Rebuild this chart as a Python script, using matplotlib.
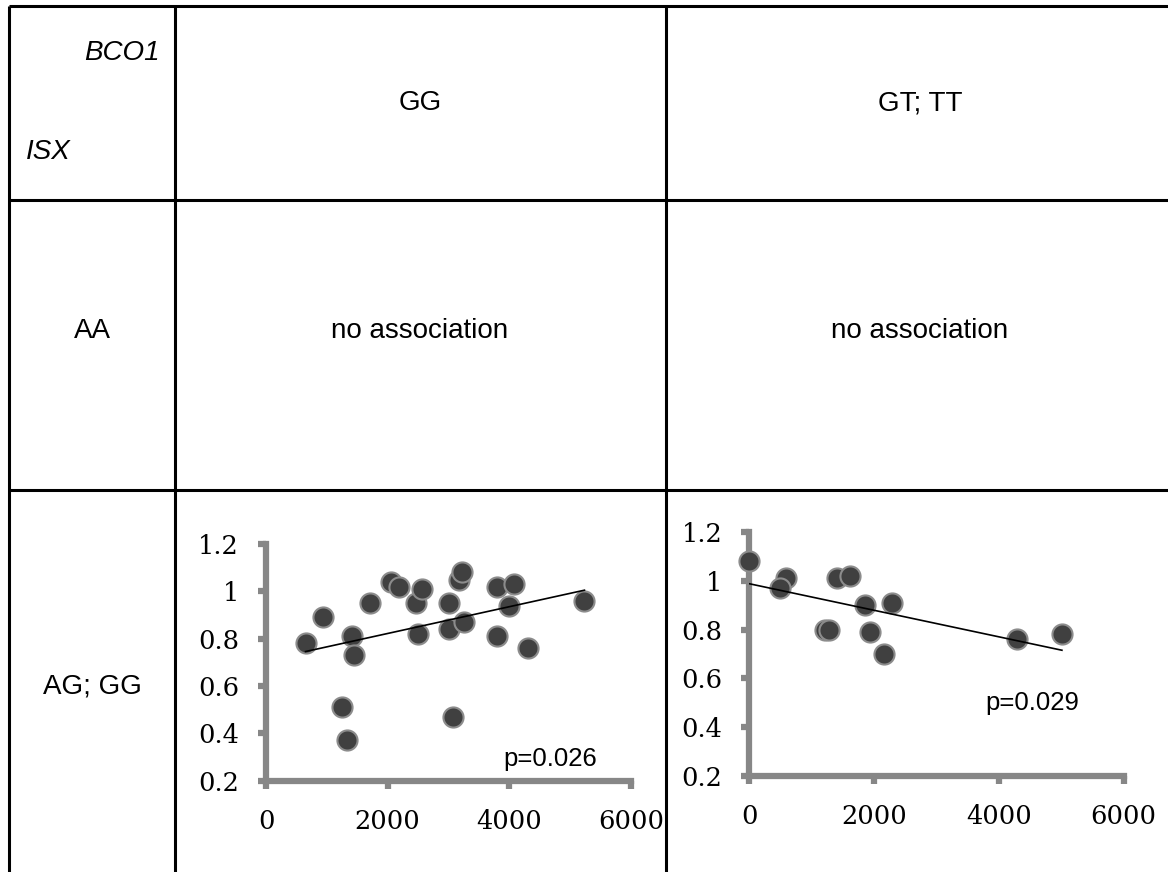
import matplotlib
matplotlib.use("Agg")
import matplotlib.pyplot as plt
import numpy as np

# table text
col_headers = ["GG", "GT; TT"]
row_headers = ["AA", "AG; GG"]
corner_top = "BCO1"
corner_bottom = "ISX"
no_assoc = "no association"

# scatter data: ISX AG;GG with BCO1 GG
gg_x = [650, 930, 1255, 1330, 1420, 1450, 1710, 2055, 2190, 2470, 2500, 2565,
        3005, 3005, 3070, 3180, 3225, 3255, 3800, 3805, 4000, 4070, 4315, 5235]
gg_y = [0.78, 0.89, 0.51, 0.37, 0.81, 0.73, 0.95, 1.04, 1.02, 0.95, 0.82, 1.01,
        0.95, 0.84, 0.47, 1.05, 1.08, 0.87, 1.02, 0.81, 0.94, 1.03, 0.76, 0.96]
gg_p = "p=0.026"

# scatter data: ISX AG;GG with BCO1 GT;TT
gt_x = [0, 590, 490, 1215, 1280, 1410, 1610, 1860, 1930, 2165, 2290, 4295, 5010]
gt_y = [1.08, 1.01, 0.97, 0.80, 0.80, 1.01, 1.02, 0.90, 0.79, 0.70, 0.91, 0.76, 0.78]
gt_p = "p=0.029"

x_ticks = [0, 2000, 4000, 6000]
y_ticks = [0.2, 0.4, 0.6, 0.8, 1.0, 1.2]
y_labels = ["0.2", "0.4", "0.6", "0.8", "1", "1.2"]

W, H = 1168, 872
fig = plt.figure(figsize=(W / 100, H / 100), dpi=100)

# background axes in pixel coordinates for the table grid
bg = fig.add_axes([0, 0, 1, 1])
bg.set_xlim(0, W)
bg.set_ylim(H, 0)
bg.axis("off")

lw = 2.2
for x in [9, 175, 666]:
    bg.plot([x, x], [6, H], color="black", lw=lw, solid_capstyle="butt")
for y in [6, 200, 490]:
    bg.plot([9, W], [y, y], color="black", lw=lw, solid_capstyle="butt")

sans = "Liberation Sans"
fs = 20
bg.text(160, 53, corner_top, ha="right", va="center", fontsize=fs,
        family=sans, style="italic")
bg.text(26, 152, corner_bottom, ha="left", va="center", fontsize=fs,
        family=sans, style="italic")
bg.text(420, 103, col_headers[0], ha="center", va="center", fontsize=fs, family=sans)
bg.text(920, 103, col_headers[1], ha="center", va="center", fontsize=fs, family=sans)
bg.text(92, 331, row_headers[0], ha="center", va="center", fontsize=fs, family=sans)
bg.text(92, 686, row_headers[1], ha="center", va="center", fontsize=fs, family=sans)
bg.text(420, 331, no_assoc, ha="center", va="center", fontsize=fs, family=sans)
bg.text(920, 331, no_assoc, ha="center", va="center", fontsize=fs, family=sans)


def scatter_panel(rect, xs, ys, ptext, ppos):
    ax = fig.add_axes(rect)
    ax.set_xlim(0, 6000)
    ax.set_ylim(0.2, 1.2)
    for s in ["top", "right"]:
        ax.spines[s].set_visible(False)
    for s in ["left", "bottom"]:
        ax.spines[s].set_color("#878787")
        ax.spines[s].set_linewidth(4.5)
    ax.set_xticks(x_ticks)
    ax.set_yticks(y_ticks)
    ax.set_yticklabels(y_labels)
    ax.tick_params(direction="out", length=5.5, width=4.5, color="#878787",
                   labelsize=18.5, pad=14)
    ax.tick_params(axis="x", pad=15)
    for lab in ax.get_xticklabels() + ax.get_yticklabels():
        lab.set_family("DejaVu Serif")
    ax.patch.set_alpha(0)
    ax.scatter(xs, ys, s=210, color="#404040", edgecolors="#8c8c8c",
               linewidths=1.5, zorder=3, clip_on=False)
    k, b = np.polyfit(xs, ys, 1)
    xx = np.array([min(xs), max(xs)])
    ax.plot(xx, k * xx + b, color="black", lw=1.2, zorder=4)
    ax.text(ppos[0], ppos[1], ptext, ha="center", va="center", fontsize=18.5,
            family=sans, transform=ax.transData)
    return ax


scatter_panel([266 / W, 1 - 780.7 / H, (631 - 266) / W, (780.7 - 544) / H],
              gg_x, gg_y, gg_p, (4680, 0.29))
scatter_panel([749.3 / W, 1 - 776 / H, (1123.7 - 749.3) / W, (776 - 532) / H],
              gt_x, gt_y, gt_p, (4540, 0.50))

fig.savefig("out.png", dpi=100)
